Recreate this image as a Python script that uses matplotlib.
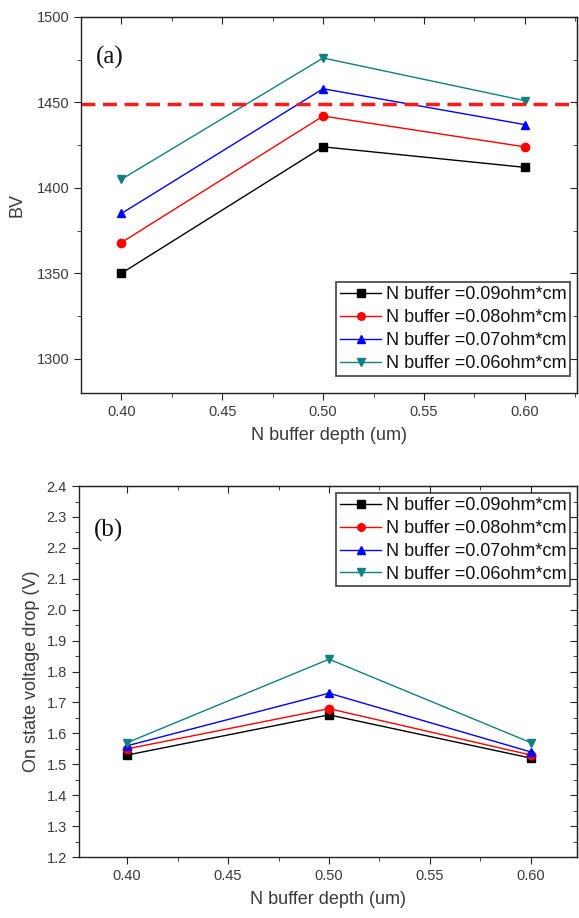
import matplotlib
matplotlib.use("Agg")
import matplotlib.pyplot as plt
from matplotlib.ticker import MultipleLocator

depth = [0.40, 0.50, 0.60]
labels = ["N buffer =0.09ohm*cm", "N buffer =0.08ohm*cm",
          "N buffer =0.07ohm*cm", "N buffer =0.06ohm*cm"]
bv_009 = [1350, 1424, 1412]
bv_008 = [1368, 1442, 1424]
bv_007 = [1385, 1458, 1437]
bv_006 = [1405, 1476, 1451]
bv_limit = 1449
von_009 = [1.53, 1.66, 1.52]
von_008 = [1.55, 1.68, 1.53]
von_007 = [1.56, 1.73, 1.54]
von_006 = [1.57, 1.84, 1.57]

colors = ["#000000", "#ff0000", "#0000ff", "#108080"]
markers = ["s", "o", "^", "v"]
txt = "#3a3a3a"

plt.rcParams['font.family'] = ['Liberation Sans', 'DejaVu Sans']
fig = plt.figure(figsize=(5.79, 9.18), dpi=100)
ax1 = fig.add_axes([0.140, 0.5720, 0.857, 0.4095])
ax2 = fig.add_axes([0.136, 0.0664, 0.861, 0.4041])

def style(ax):
    for s in ax.spines.values():
        s.set_color("#222222")
        s.set_linewidth(1.0)
    ax.tick_params(which='both', direction='out', colors="#222222", labelcolor=txt, labelsize=10.5)
    ax.tick_params(which='major', length=5)
    ax.tick_params(which='minor', length=3)
    ax.xaxis.set_major_locator(MultipleLocator(0.05))
    ax.xaxis.set_minor_locator(MultipleLocator(0.025))
    ax.xaxis.set_major_formatter(lambda v, p: f"{v:.2f}")
    sx = ax.secondary_xaxis('top')
    sx.xaxis.set_major_locator(MultipleLocator(0.05))
    sx.xaxis.set_minor_locator(MultipleLocator(0.025))
    sx.tick_params(which='both', direction='in', labeltop=False, colors="#222222")
    sx.tick_params(which='major', length=5)
    sx.tick_params(which='minor', length=3)

def right_ticks(ax, major, minor):
    sy = ax.secondary_yaxis('right')
    sy.yaxis.set_major_locator(MultipleLocator(major))
    sy.yaxis.set_minor_locator(MultipleLocator(minor))
    sy.tick_params(which='both', direction='in', labelright=False, colors="#222222")
    sy.tick_params(which='major', length=5)
    sy.tick_params(which='minor', length=3)

def legend(ax, loc, anchor):
    leg = ax.legend(loc=loc, bbox_to_anchor=anchor, fontsize=13, frameon=True, fancybox=False,
                    edgecolor="#222222", borderpad=0.2, labelspacing=0.33,
                    handlelength=2.3, handletextpad=0.25, borderaxespad=0.4,
                    markerscale=0.9)
    leg.get_frame().set_linewidth(1.3)
    for t in leg.get_texts():
        t.set_color("#111111")

series1 = [bv_009, bv_008, bv_007, bv_006]
for y, c, m, l in zip(series1, colors, markers, labels):
    ax1.plot(depth, y, color=c, marker=m, markersize=6, linewidth=1.0, label=l)
ax1.axhline(bv_limit, color="#ff1a1a", linestyle=(0, (4, 2.2)), linewidth=2.5)
ax1.set_xlim(0.38, 0.626)
ax1.set_ylim(1280, 1500)
style(ax1)
ax1.yaxis.set_major_locator(MultipleLocator(50))
ax1.yaxis.set_minor_locator(MultipleLocator(25))
right_ticks(ax1, 50, 25)
ax1.set_xlabel("N buffer depth (um)", fontsize=13, color=txt, labelpad=6)
ax1.set_ylabel("BV", fontsize=13, color=txt, labelpad=8)
ax1.text(0.03, 0.875, "(a)", transform=ax1.transAxes, fontsize=18,
         family=['Liberation Serif', 'DejaVu Serif'], color="#111111")
legend(ax1, 'lower right', (1.0, 0.027))

series2 = [von_009, von_008, von_007, von_006]
for y, c, m, l in zip(series2, colors, markers, labels):
    ax2.plot(depth, y, color=c, marker=m, markersize=6, linewidth=1.0, label=l)
ax2.set_xlim(0.376, 0.623)
ax2.set_ylim(1.2, 2.4)
style(ax2)
ax2.yaxis.set_major_locator(MultipleLocator(0.1))
ax2.yaxis.set_minor_locator(MultipleLocator(0.05))
ax2.yaxis.set_major_formatter(lambda v, p: f"{v:.1f}")
right_ticks(ax2, 0.1, 0.05)
ax2.set_xlabel("N buffer depth (um)", fontsize=13, color=txt, labelpad=6)
ax2.set_ylabel("On state voltage drop (V)", fontsize=13, color=txt, labelpad=5)
ax2.text(0.03, 0.865, "(b)", transform=ax2.transAxes, fontsize=18,
         family=['Liberation Serif', 'DejaVu Serif'], color="#111111")
legend(ax2, 'upper right', (1.0, 1.0))

fig.savefig("out.png", dpi=100)
